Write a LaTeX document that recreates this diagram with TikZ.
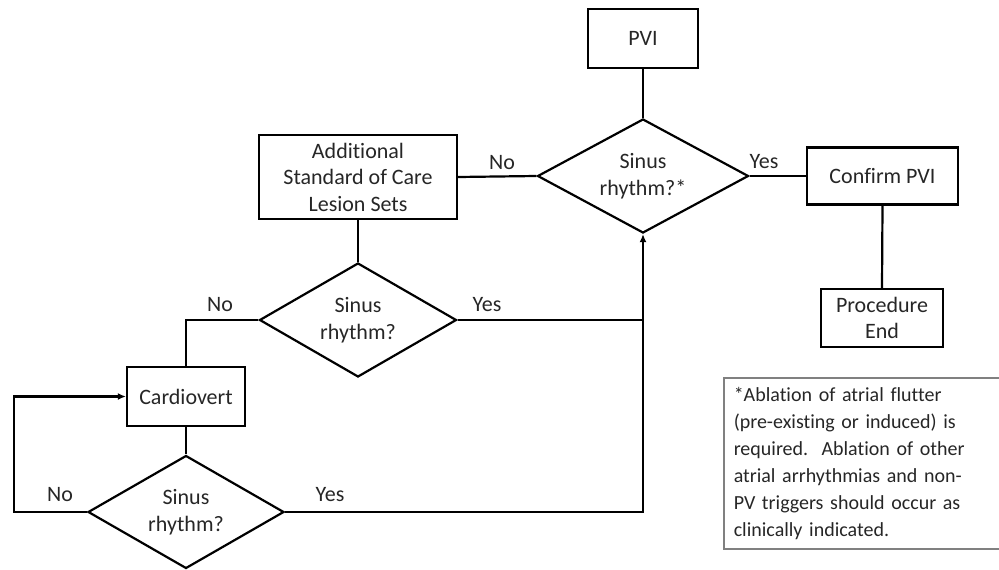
\documentclass[tikz,border=0pt]{standalone}
\usepackage{fontspec}
\setmainfont{Carlito}[Ligatures=NoCommon]
\usetikzlibrary{shapes.geometric,arrows.meta}
\definecolor{txt}{RGB}{38,38,38}
\definecolor{notegray}{RGB}{128,128,128}
\begin{document}
\begin{tikzpicture}[x=1pt,y=-1pt,
  every node/.style={font=\fontsize{22}{26.5}\selectfont, text=txt},
  box/.style={draw=black, line width=2.2pt, rectangle, align=center, inner sep=0pt},
  dec/.style={draw=black, line width=2.2pt, diamond, aspect=1.85, inner sep=0pt, align=center},
  conn/.style={draw=black, line width=2.2pt},
  arr/.style={conn, -{Latex[length=8pt,width=7pt]}},
  lab/.style={inner sep=0pt},
  notebox/.style={draw=notegray, line width=1.5pt, rectangle, align=left, text width=270pt,
    inner xsep=10pt, inner ysep=0pt, minimum height=171pt, font=\fontsize{20}{27}\selectfont}
]
\useasboundingbox (0,0) rectangle (999,570);

\node[box, minimum width=110pt, minimum height=59pt] (pvi) at (643,38.5) {PVI};
\node[dec, minimum width=211pt, minimum height=114pt] (d1) at (643,176) {Sinus\\rhythm?*};
\node[box, minimum width=151pt, minimum height=57pt] (conf) at (882.5,176) {Confirm PVI};
\node[box, minimum width=122pt, minimum height=58pt] (pend) at (882,318) {Procedure\\End};
\node[box, minimum width=198pt, minimum height=84pt] (add) at (358,177) {Additional\\Standard of Care\\Lesion Sets};
\node[dec, minimum width=197pt, minimum height=114pt] (d2) at (358,320) {Sinus\\rhythm?};
\node[box, minimum width=118pt, minimum height=59pt] (cardio) at (186,396.5) {Cardiovert};
\node[dec, minimum width=196pt, minimum height=113pt] (d3) at (186,512) {Sinus\\rhythm?};

\node[notebox, anchor=north west] (note) at (723,377) {*Ablation of atrial flutter\\(pre-existing or induced) is\\required.\ \ Ablation of other\\atrial arrhythmias and non-\\PV triggers should occur as\\clinically indicated.};

\coordinate (j1) at (643,320);
\coordinate (j2) at (643,512);
\coordinate (c1) at (14,512);

\draw[conn] (pvi.south) -- (d1.north);
\draw[conn] (d1.west) -- (add.east);
\draw[conn] (d1.east) -- (conf.west);
\draw[conn] (conf.south) -- (pend.north);
\draw[conn] (add.south) -- (d2.north);
\draw[conn] (d2.west) -| (cardio.north);
\draw[conn] (d2.east) -- (j1);
\draw[conn] (cardio.south) -- (d3.north);
\draw[arr] (d3.east) -- (j2) -- (d1.south);
\draw[arr] (d3.west) -- (c1) |- (cardio.west);

\node[lab] (no1) at (502,163) {No};
\node[lab] (yes1) at (764,162) {Yes};
\node[lab] (no2) at (220,305) {No};
\node[lab] (yes2) at (487,305) {Yes};
\node[lab] (no3) at (60,495) {No};
\node[lab] (yes3) at (330,495) {Yes};
\end{tikzpicture}
\end{document}
